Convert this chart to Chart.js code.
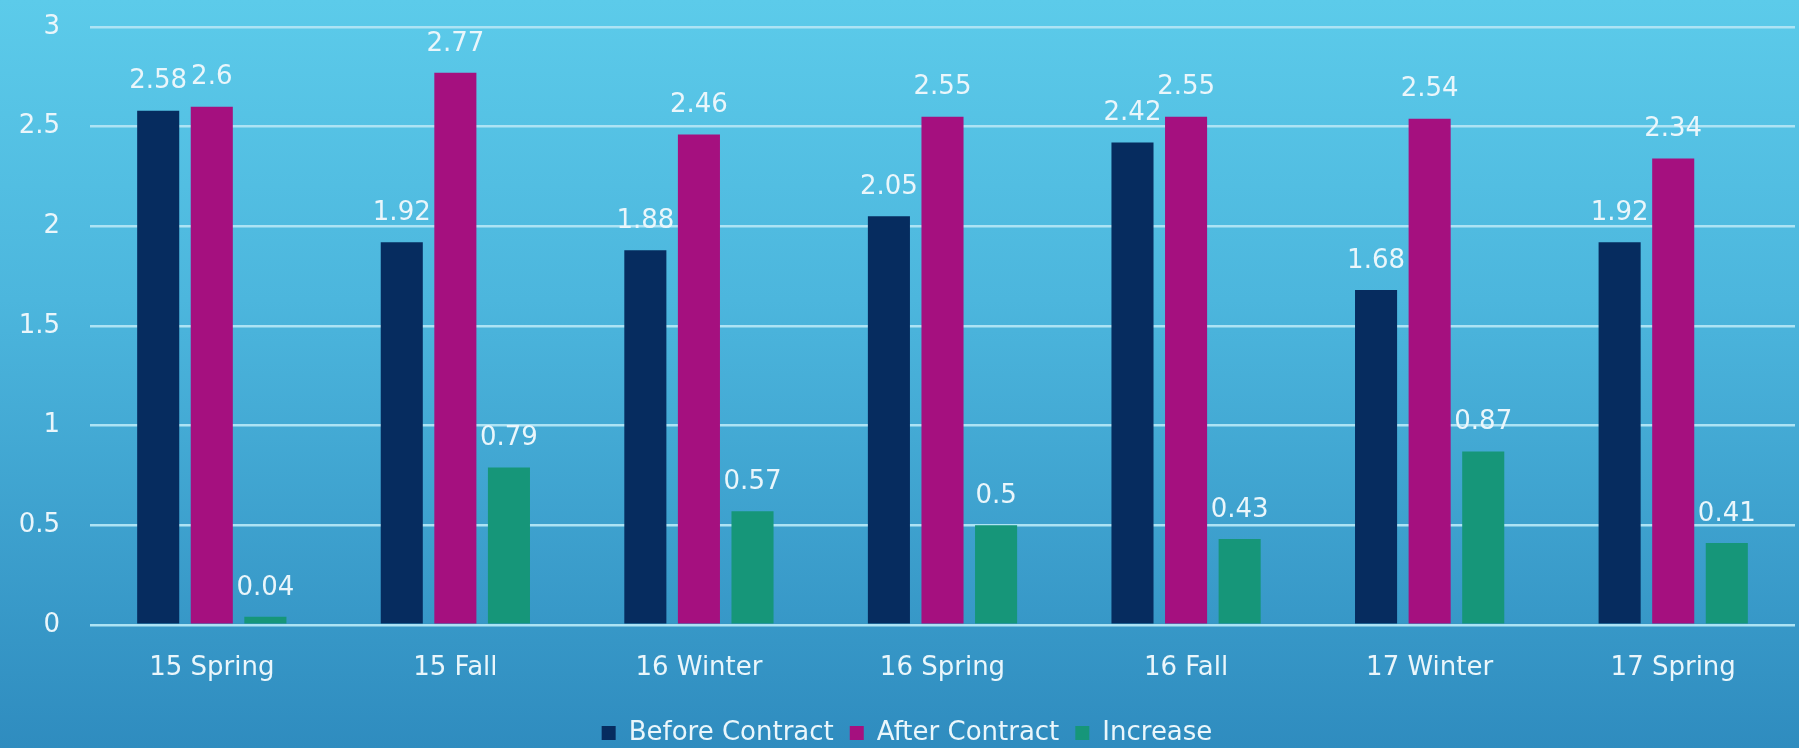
<!DOCTYPE html>
<html>
<head>
<meta charset="utf-8">
<script src="https://cdn.jsdelivr.net/npm/chart.js@4"></script>
<style>
    body { margin: 0; }
    #wrap {
        width: 1799px;
        height: 748px;
        background: linear-gradient(to bottom, #5ccbea 0%, #4cb6dd 40%, #2f8cbf 100%);
    }
    canvas { display: block; }
</style>
</head>
<body>
<div id="wrap"><canvas id="contractChart" width="1799" height="748"></canvas></div>
<script>
const categories = ['15 Spring', '15 Fall', '16 Winter', '16 Spring', '16 Fall', '17 Winter', '17 Spring'];
const beforeContract = [2.58, 1.92, 1.88, 2.05, 2.42, 1.68, 1.92];
const afterContract = [2.6, 2.77, 2.46, 2.55, 2.55, 2.54, 2.34];
const increase = [0.04, 0.79, 0.57, 0.5, 0.43, 0.87, 0.41];
const yTicks = [0, 0.5, 1, 1.5, 2, 2.5, 3];

const textColor = '#eaf6fb';
const fontFamily = '"DejaVu Sans", sans-serif';

// draws the value above each bar (no datalabels plugin offline)
const valueLabels = {
    id: 'valueLabels',
    afterDatasetsDraw(chart) {
        const ctx = chart.ctx;
        ctx.save();
        ctx.font = '26px ' + fontFamily;
        ctx.fillStyle = textColor;
        ctx.textAlign = 'center';
        ctx.textBaseline = 'middle';
        chart.data.datasets.forEach((ds, i) => {
            chart.getDatasetMeta(i).data.forEach((bar, j) => {
                ctx.fillText(String(ds.data[j]), bar.x, bar.y - 29);
            });
        });
        ctx.restore();
    }
};

const ctx = document.getElementById('contractChart').getContext('2d');

new Chart(ctx, {
    type: 'bar',
    data: {
        labels: categories,
        datasets: [
            { label: 'Before Contract', data: beforeContract, backgroundColor: '#062c5f' },
            { label: 'After Contract', data: afterContract, backgroundColor: '#a5107f' },
            { label: 'Increase', data: increase, backgroundColor: '#169679' }
        ]
    },
    options: {
        responsive: false,
        devicePixelRatio: 1,
        animation: false,
        layout: { padding: { left: 19, right: 4, top: 0, bottom: 0 } },
        datasets: {
            bar: { categoryPercentage: 0.66, barPercentage: 0.785 }
        },
        scales: {
            x: {
                grid: { display: false },
                border: { display: false },
                ticks: {
                    color: textColor,
                    font: { size: 26, family: fontFamily },
                    padding: 20
                }
            },
            y: {
                min: 0,
                max: 3,
                afterBuildTicks(axis) {
                    axis.ticks = yTicks.map(v => ({ value: v }));
                },
                afterFit(scale) {
                    scale.width = 71;
                    scale.paddingTop = 27;
                },
                grid: { color: '#ade3f4', lineWidth: 2.5, drawTicks: false },
                border: { display: false },
                ticks: {
                    color: textColor,
                    font: { size: 26, family: fontFamily },
                    padding: 30,
                    callback: v => String(v)
                }
            }
        },
        plugins: {
            legend: {
                position: 'bottom',
                maxHeight: 44,
                labels: {
                    color: textColor,
                    font: { size: 26, family: fontFamily },
                    boxWidth: 14,
                    boxHeight: 14,
                    padding: 16
                }
            },
            tooltip: { enabled: false }
        }
    },
    plugins: [valueLabels]
});
</script>
</body>
</html>
